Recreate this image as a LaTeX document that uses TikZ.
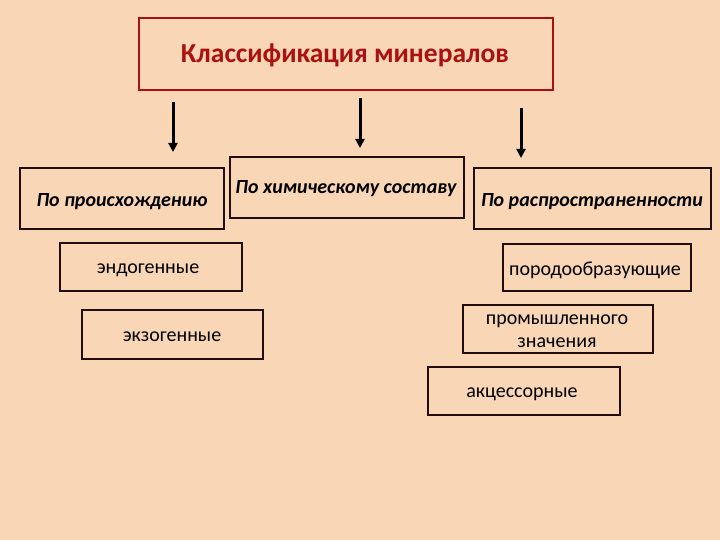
\documentclass[tikz,border=0pt]{standalone}
\usepackage{fontspec}
\setmainfont{Carlito}
\usetikzlibrary{arrows.meta}
\definecolor{bg}{RGB}{249,214,182}
\definecolor{titlered}{RGB}{170,18,18}
\definecolor{boxline}{RGB}{35,12,12}
\tikzset{
  box/.style={draw=boxline, line width=2pt, inner sep=0pt, anchor=north west},
  cat/.style={font=\fontsize{20}{22}\selectfont\bfseries\itshape},
  item/.style={font=\fontsize{20}{23}\selectfont, align=center},
  arr/.style={line width=3pt, -{Triangle[length=9pt,width=9pt]}},
}
\begin{document}
\begin{tikzpicture}[x=1pt,y=-1pt]
\fill[bg] (0,0) rectangle (720,540);
\useasboundingbox (0,0) rectangle (720,540);
% title
\node[draw=titlered, line width=2pt, minimum width=414pt, minimum height=72pt, anchor=north west, inner sep=0pt] (title) at (138,17) {};
\node[text=titlered, font=\fontsize{27.5}{30}\selectfont\bfseries] (titletext) at (345,55) {Классификация минералов};
% category boxes
\node[box, minimum width=204pt, minimum height=61pt] (orig) at (19,167) {};
\node[cat] (origt) at (122,202) {По происхождению};
\node[box, minimum width=234pt, minimum height=61pt] (chem) at (229,156) {};
\node[cat] (chemt) at (346,189) {По химическому составу};
\node[box, minimum width=237pt, minimum height=61pt] (dist) at (473,167) {};
\node[cat] (distt) at (592,202) {По распространенности};
% arrows
\coordinate (a1s) at (173,102); \coordinate (a1e) at (173,152);
\coordinate (a2s) at (360,98);  \coordinate (a2e) at (360,148);
\coordinate (a3s) at (521,108); \coordinate (a3e) at (521,158);
\draw[arr] (a1s) -- (a1e);
\draw[arr] (a2s) -- (a2e);
\draw[arr] (a3s) -- (a3e);
% items
\node[box, minimum width=182pt, minimum height=48pt] (endo) at (59,242) {};
\node[item] (endot) at (148,270) {эндогенные};
\node[box, minimum width=181pt, minimum height=49pt] (exo) at (81,309) {};
\node[item] (exot) at (172,337) {экзогенные};
\node[box, minimum width=188pt, minimum height=47pt] (rock) at (502,243) {};
\node[item] (rockt) at (595,270) {породообразующие};
\node[box, minimum width=190pt, minimum height=48pt] (ind) at (462,304) {};
\node[item] (indt) at (557,331) {промышленного\\значения};
\node[box, minimum width=192pt, minimum height=48pt] (acc) at (427,366) {};
\node[item] (acct) at (522,394) {акцессорные};
\end{tikzpicture}
\end{document}
